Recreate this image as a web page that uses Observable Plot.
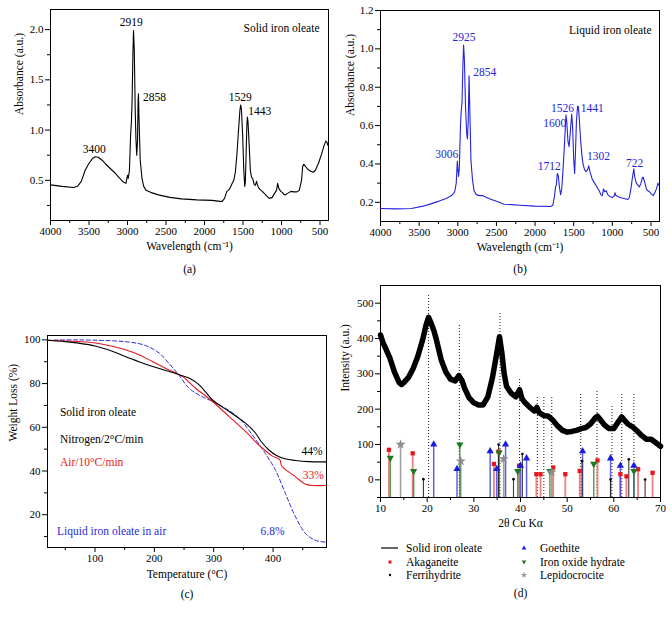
<!DOCTYPE html>
<html><head><meta charset="utf-8">
<script src="https://cdn.jsdelivr.net/npm/d3@7"></script>
<script src="https://cdn.jsdelivr.net/npm/@observablehq/plot@0.6"></script>
<style>
html,body{margin:0;padding:0;background:#fff;}
#root{position:relative;width:672px;height:619px;overflow:hidden;font-family:'Liberation Serif','Times New Roman',serif;}
#legend{position:absolute;left:380px;top:541px;display:grid;grid-template-columns:134px 150px;grid-auto-rows:13.7px;font-size:11.5px;color:#000;}
#legend .it{display:flex;align-items:center;white-space:nowrap;}
#legend svg{width:20px;height:10px;margin-right:6px;flex:none;}
</style></head><body><div id="root"><div id="legend"></div></div>
<script>
// ---------- Panel (a): solid iron oleate FTIR ----------
const aWavenumber = [4000,3850,3700,3650,3600,3550,3500,3450,3420,3380,3330,3288,3200,3158,3100,3050,3020,3010,3000,2990,2975,2960,2950,2940,2930,2922,2912,2900,2890,2880,2870,2862,2858,2850,2835,2812,2790,2760,2700,2600,2450,2300,2100,1900,1800,1770,1740,1710,1690,1670,1640,1620,1600,1580,1560,1540,1530,1520,1505,1490,1478,1470,1460,1450,1443,1435,1420,1405,1390,1375,1355,1340,1325,1315,1300,1280,1250,1200,1160,1120,1090,1065,1050,1035,1010,990,970,950,920,880,840,800,770,740,725,710,690,660,620,590,560,520,480,450,425,410,400];
const aAbsorbance = [0.455,0.44,0.428,0.44,0.49,0.60,0.67,0.72,0.735,0.73,0.70,0.665,0.60,0.57,0.52,0.48,0.47,0.51,0.55,0.52,0.60,0.95,1.07,1.30,1.75,1.99,1.80,1.20,0.90,0.75,0.90,1.30,1.36,1.10,0.70,0.52,0.44,0.40,0.38,0.355,0.33,0.315,0.305,0.30,0.29,0.29,0.32,0.39,0.40,0.42,0.47,0.50,0.58,0.75,0.98,1.20,1.25,1.20,0.95,0.60,0.44,0.48,0.75,1.05,1.13,1.08,0.85,0.60,0.53,0.52,0.46,0.45,0.49,0.46,0.43,0.41,0.39,0.35,0.32,0.33,0.37,0.40,0.47,0.42,0.39,0.38,0.36,0.355,0.37,0.39,0.385,0.385,0.40,0.50,0.64,0.66,0.64,0.61,0.59,0.58,0.60,0.67,0.76,0.84,0.89,0.88,0.85];
const aPeakText = ["2919","3400","1529"];
const aPeakWn = [2950,3433,1535];
const aPeakAbs = [2.07,0.81,1.33];
const aPeakTextR = ["2858","1443"];
const aPeakWnR = [2800,1433];
const aPeakAbsR = [1.33,1.19];

// ---------- Panel (b): liquid iron oleate FTIR ----------
const bWavenumber = [4000,3800,3600,3450,3350,3250,3150,3080,3040,3020,3006,2998,2990,2980,2965,2955,2945,2935,2925,2915,2900,2885,2875,2865,2854,2845,2830,2810,2790,2760,2720,2680,2600,2500,2400,2300,2200,2000,1800,1770,1750,1735,1725,1712,1700,1685,1670,1655,1640,1620,1600,1590,1575,1560,1545,1526,1515,1500,1488,1478,1465,1450,1441,1430,1410,1395,1380,1360,1340,1320,1305,1290,1260,1230,1200,1170,1150,1130,1115,1100,1080,1060,1030,1000,975,965,955,900,850,800,780,760,740,722,710,690,670,650,630,610,600,585,560,540,520,500,470,450,430,410,400];
const bAbsorbance = [0.168,0.166,0.168,0.18,0.192,0.205,0.22,0.235,0.255,0.30,0.415,0.37,0.335,0.38,0.60,0.68,0.72,0.90,1.02,0.95,0.70,0.56,0.53,0.62,0.86,0.70,0.42,0.32,0.26,0.24,0.235,0.235,0.22,0.205,0.19,0.188,0.185,0.18,0.178,0.185,0.23,0.28,0.29,0.35,0.34,0.28,0.24,0.27,0.36,0.50,0.655,0.62,0.52,0.49,0.56,0.66,0.60,0.42,0.35,0.45,0.62,0.70,0.70,0.65,0.52,0.45,0.40,0.37,0.36,0.37,0.39,0.36,0.32,0.30,0.28,0.26,0.24,0.235,0.27,0.255,0.26,0.24,0.23,0.225,0.235,0.25,0.235,0.225,0.22,0.215,0.225,0.27,0.33,0.375,0.33,0.30,0.29,0.28,0.30,0.33,0.33,0.31,0.27,0.26,0.255,0.245,0.235,0.25,0.27,0.30,0.29];
const bPeakText = ["2925","3006","1712","1600","1526","722"];
const bPeakWn = [2920,3144,1817,1745,1646,712];
const bPeakAbs = [1.061,0.452,0.388,0.612,0.692,0.405];
const bPeakTextR = ["2854","1441","1302"];
const bPeakWnR = [2799,1409,1327];
const bPeakAbsR = [0.878,0.692,0.44];

// ---------- Panel (c): TGA ----------
const nitrogenT = [20,50,72,100,129,150,174,196,224,247,260,275,290,298,326,354,370,380,393,405,420,438,460,490];
const nitrogenW = [99.8,99.2,98.5,97.2,94.8,92.5,90.0,87.9,85.6,83.6,82.3,79.5,75.0,72.5,67.2,61.8,57.5,53.5,49.6,47.2,45.6,44.8,44.3,44.2];
const airT = [20,72,100,129,150,174,196,224,247,269,298,326,354,376,399,410,412,414,418,438,455,466,490];
const airW = [99.8,99.2,98.6,97.1,95.6,93.2,90.2,86.3,83.3,78,71.8,64.9,58,51.9,46.8,45.5,44.8,42.5,41.3,37.3,33.9,33.4,33.4];
const liquidT = [20,72,157,185,208,224,241,258,275,298,320,343,365,387,404,421,438,455,472,490];
const liquidW = [99.8,100,99,97.4,94,89.4,84,78,74.8,71.8,68.7,64.1,56.5,48,40.4,29.6,18.9,11.3,8.2,7.4];
const cNoteText = ["Solid iron oleate","Nitrogen/2°C/min","Air/10°C/min","44%","33%","Liquid iron oleate in air","6.8%"];
const cNoteT = [41,41,41,448,450,36,379];
const cNoteW = [66.7,54.5,44.2,48.8,38.1,12.5,12.5];
const cNoteSeries = ["black","black","red","black","red","blue","blue"];

// ---------- Panel (d): XRD ----------
const xrdAngle = [10,10.5,11,12,13,14,14.5,15,16,17,18,19,19.8,20.3,20.8,21.5,22,23,24,25,26,26.8,27.5,28,29,30,31,32,33,34,34.8,35.5,36,36.5,37,38,39,39.8,40.3,41,42,43,43.5,44,45,46,47,48,49,50,51,52,53,54,55,56,56.5,57,58,59,60,61,61.7,62.3,63,64,65,66,67,68,69,70];
const xrdIntensity = [410,390,375,345,305,275,270,275,290,315,350,395,440,460,445,420,395,340,305,285,280,295,280,260,232,218,212,212,235,290,350,405,360,300,265,245,235,255,230,218,205,195,205,190,182,180,168,152,140,135,137,140,145,148,158,175,180,172,155,145,145,165,178,168,158,150,138,125,115,115,105,95];
const refAngle = [20.3,26.9,35.6,39.8,43.6,45.0,46.7,52.9,56.4,59.6,61.7,64.3];
const refTop = [523,441,474,288,233,233,233,243,253,211,247,244];
const akaAngle = [11.8,16.9,34.3,35.3,39.7,43.4,44.3,47.0,49.6,52.7,56.5,61.4,62.7,65.2,68.3];
const akaI = [85,75,45,80,40,16,16,35,16,25,55,16,10,30,20];
const goeAngle = [21.4,26.4,33.5,34.9,36.8,40.0,41.3,53.3,59.3,61.4,64.3];
const goeI = [100,31,81,31,100,40,61,81,61,40,40];
const iohAngle = [12.1,17.1,27.0,35.4,39.4,46.3,55.7,64.3];
const iohI = [62,25,100,77,25,25,45,25];
const ferAngle = [19.2,35.3,38.5,40.4,53.2,59.3,63.2,66.7];
const ferI = [2,100,2,73,53,1,58,1];
const lepAngle = [14.3,27.2,36.4,46.7];
const lepI = [100,53,59,22];
const legendNames = ["Solid iron oleate","Goethite","Akaganeite","Iron oxide hydrate","Ferrihydrite","Lepidocrocite"];

// ---------- helpers ----------
const FONT = "'Liberation Serif','Times New Roman',serif";
const zip2 = (xs, ys) => xs.map((x, i) => ({x, y: ys[i]}));
const zip3 = (ts, xs, ys) => ts.map((t, i) => ({t, x: xs[i], y: ys[i]}));
const triangleDown = {draw(ctx, size) {
  const y = -Math.sqrt(size / (Math.sqrt(3) * 3));
  ctx.moveTo(0, -y * 2); ctx.lineTo(-Math.sqrt(3) * y, y); ctx.lineTo(Math.sqrt(3) * y, y); ctx.closePath();
}};
function axes(xMajor, xMinor, yMajor, yMinor, yFmt) {
  return [
    Plot.axisX({ticks: xMajor, tickSize: 5, tickPadding: 2, label: null, tickFormat: d => String(d), fontSize: 11}),
    Plot.axisX({ticks: xMinor, tickSize: 3, label: null, tickFormat: () => ""}),
    Plot.axisY({ticks: yMajor, tickSize: 5, tickPadding: 2, label: null, tickFormat: yFmt, fontSize: 11}),
    Plot.axisY({ticks: yMinor, tickSize: 3, label: null, tickFormat: () => ""}),
    Plot.frame({stroke: "#000", strokeWidth: 1})
  ];
}
function labels(xLab, xDy, yLab, yDx, tag, tagDy) {
  return [
    Plot.text([xLab], {text: d => d, frameAnchor: "bottom", dy: xDy, fontSize: 11.5, fill: "#000"}),
    Plot.text([yLab], {text: d => d, frameAnchor: "left", dx: yDx, rotate: -90, fontSize: 11.5, fill: "#000"}),
    Plot.text([tag], {text: d => d, frameAnchor: "bottom", dy: tagDy, fontSize: 11.5, fill: "#000"})
  ];
}
function place(svg, left, top) {
  svg.style.position = "absolute"; svg.style.left = left + "px"; svg.style.top = top + "px";
  document.getElementById("root").appendChild(svg);
}
const baseStyle = {fontFamily: FONT, fontSize: "11px", background: "transparent", color: "#000", overflow: "visible"};
const f1 = d3.format(".1f");

// ---------- (a) ----------
place(Plot.plot({
  width: 336, height: 262, marginLeft: 50, marginTop: 9, marginRight: 8, marginBottom: 42,
  style: baseStyle,
  x: {domain: [4000, 390]}, y: {domain: [0.1, 2.2]},
  marks: [
    ...axes([4000,3500,3000,2500,2000,1500,1000,500],[3750,3250,2750,2250,1750,1250,750],[0.5,1.0,1.5,2.0],[0.25,0.75,1.25,1.75],f1),
    Plot.line(zip2(aWavenumber, aAbsorbance), {x: "x", y: "y", stroke: "#000", strokeWidth: 1.1, curve: "linear"}),
    Plot.text(zip3(aPeakText, aPeakWn, aPeakAbs), {x: "x", y: "y", text: "t", fontSize: 11.5, fill: "#000"}),
    Plot.text(zip3(aPeakTextR, aPeakWnR, aPeakAbsR), {x: "x", y: "y", text: "t", fontSize: 11.5, fill: "#000", textAnchor: "start"}),
    Plot.text(["Solid iron oleate"], {text: d => d, frameAnchor: "top-right", dx: -9, dy: 14, fontSize: 11.5, fill: "#000"}),
    ...labels("Wavelength (cm⁻¹)", 29, "Absorbance (a.u.)", -31, "(a)", 52)
  ]
}), 0, 0);

// ---------- (b) ----------
const BLUE = "#2424dc";
place(Plot.plot({
  width: 336, height: 262, marginLeft: 44, marginTop: 10, marginRight: 13, marginBottom: 41,
  style: baseStyle,
  x: {domain: [4000, 390]}, y: {domain: [0.1, 1.2]},
  marks: [
    ...axes([4000,3500,3000,2500,2000,1500,1000,500],[3750,3250,2750,2250,1750,1250,750],[0.2,0.4,0.6,0.8,1.0,1.2],[0.3,0.5,0.7,0.9,1.1],f1),
    Plot.line(zip2(bWavenumber, bAbsorbance), {x: "x", y: "y", stroke: BLUE, strokeWidth: 1.1, curve: "linear"}),
    Plot.text(zip3(bPeakText, bPeakWn, bPeakAbs), {x: "x", y: "y", text: "t", fontSize: 11.5, fill: BLUE}),
    Plot.text(zip3(bPeakTextR, bPeakWnR, bPeakAbsR), {x: "x", y: "y", text: "t", fontSize: 11.5, fill: BLUE, textAnchor: "start"}),
    Plot.text(["Liquid iron oleate"], {text: d => d, frameAnchor: "top-right", dx: -8, dy: 15, fontSize: 11.5, fill: "#000"}),
    ...labels("Wavelength (cm⁻¹)", 29, "Absorbance (a.u.)", -30, "(b)", 51)
  ]
}), 336, 0);

// ---------- (c) ----------
const RED = "#e5181e", CBLUE = "#2a2ad8";
const seriesColor = {black: "#000", red: RED, blue: CBLUE};
place(Plot.plot({
  width: 336, height: 309, marginLeft: 47, marginTop: 25, marginRight: 10, marginBottom: 72,
  style: baseStyle,
  x: {domain: [20, 490]}, y: {domain: [5, 102]},
  marks: [
    ...axes([100,200,300,400],[50,150,250,350,450],[20,40,60,80,100],[10,30,50,70,90],d => String(d)),
    Plot.line(zip2(liquidT, liquidW), {x: "x", y: "y", stroke: CBLUE, strokeWidth: 1, strokeDasharray: "4,2.5", curve: "catmull-rom"}),
    Plot.line(zip2(airT, airW), {x: "x", y: "y", stroke: RED, strokeWidth: 1.1, curve: "catmull-rom"}),
    Plot.line(zip2(nitrogenT, nitrogenW), {x: "x", y: "y", stroke: "#000", strokeWidth: 1.1, curve: "catmull-rom"}),
    Plot.text(cNoteText.map((t, i) => ({t, x: cNoteT[i], y: cNoteW[i], c: seriesColor[cNoteSeries[i]]})),
      {x: "x", y: "y", text: "t", fill: d => d.c, textAnchor: "start", fontSize: 11.5}),
    ...labels("Temperature (°C)", 30, "Weight Loss (%)", -34, "(c)", 50)
  ]
}), 0, 310);

// ---------- (d) ----------
const stem = (xs, ys, color, w, op) => Plot.ruleX(zip2(xs, ys), {x: "x", y1: -50, y2: "y", stroke: color, strokeWidth: w, strokeOpacity: op});
place(Plot.plot({
  width: 336, height: 339, marginLeft: 44, marginTop: 5, marginRight: 12, marginBottom: 122,
  style: baseStyle,
  x: {domain: [10, 70]}, y: {domain: [-50, 550]},
  marks: [
    Plot.ruleX(zip2(refAngle, refTop), {x: "x", y1: -50, y2: "y", stroke: "#000", strokeWidth: 0.9, strokeDasharray: "1,2"}),
    Plot.line(zip2(xrdAngle, xrdIntensity), {x: "x", y: "y", stroke: "#000", strokeWidth: 5.5, strokeLinejoin: "round", curve: "linear"}),
    stem(lepAngle, lepI, "#a0a0a0", 1.6, 1),
    stem(akaAngle, akaI, "#ee6a6a", 1.8, 0.85),
    stem(goeAngle, goeI, "#3a3ae0", 1.5, 0.8),
    stem(iohAngle, iohI, "#2a8a2a", 1.5, 0.8),
    stem(ferAngle, ferI, "#222", 1.1, 0.9),
    Plot.dot(zip2(akaAngle, akaI), {x: "x", y: "y", symbol: "square", r: 2.4, fill: "#e8141c", stroke: "none"}),
    Plot.dot(zip2(goeAngle, goeI), {x: "x", y: "y", symbol: "triangle", r: 2.7, fill: "#1c1ce0", stroke: "none"}),
    Plot.dot(zip2(iohAngle, iohI), {x: "x", y: "y", symbol: triangleDown, r: 2.7, fill: "#1e7a1e", stroke: "none"}),
    Plot.dot(zip2(ferAngle, ferI), {x: "x", y: "y", symbol: "circle", r: 1.3, fill: "#000", stroke: "none"}),
    Plot.dot(zip2(lepAngle, lepI), {x: "x", y: "y", symbol: "star", r: 3.2, fill: "#8c8c8c", stroke: "none"}),
    ...axes([10,20,30,40,50,60,70],[15,25,35,45,55,65],[0,100,200,300,400,500],[-50,50,150,250,350,450],d => String(d)),
    ...labels("2θ Cu Kα", 29, "Intensity (a.u.)", -35, "(d)", 99)
  ]
}), 336, 280);

// ---------- legend (d) ----------
const starPath = d3.symbol(d3.symbolStar, 14)();
const legendSymbols = {
  "Solid iron oleate": '<line x1="1" x2="18" y1="5" y2="5" stroke="#000" stroke-width="1.2"/>',
  "Goethite": '<path d="M10 2.6 L12.3 6.6 L7.7 6.6 Z" fill="#1c1ce0"/>',
  "Akaganeite": '<rect x="8.5" y="3.5" width="3" height="3" fill="#e8141c"/>',
  "Iron oxide hydrate": '<path d="M10 7.4 L12.3 3.4 L7.7 3.4 Z" fill="#1e7a1e"/>',
  "Ferrihydrite": '<circle cx="10" cy="5" r="1.2" fill="#000"/>',
  "Lepidocrocite": '<path transform="translate(10,5)" d="' + starPath + '" fill="#999"/>'
};
const lg = document.getElementById("legend");
const leftCol = ["Solid iron oleate","Akaganeite","Ferrihydrite"], rightCol = ["Goethite","Iron oxide hydrate","Lepidocrocite"];
for (let r = 0; r < 3; r++) for (const name of [leftCol[r], rightCol[r]]) {
  if (!legendNames.includes(name)) continue;
  const d = document.createElement("div"); d.className = "it";
  d.innerHTML = '<svg viewBox="0 0 20 10">' + legendSymbols[name] + '</svg><span>' + name + '</span>';
  lg.appendChild(d);
}
</script></body></html>
